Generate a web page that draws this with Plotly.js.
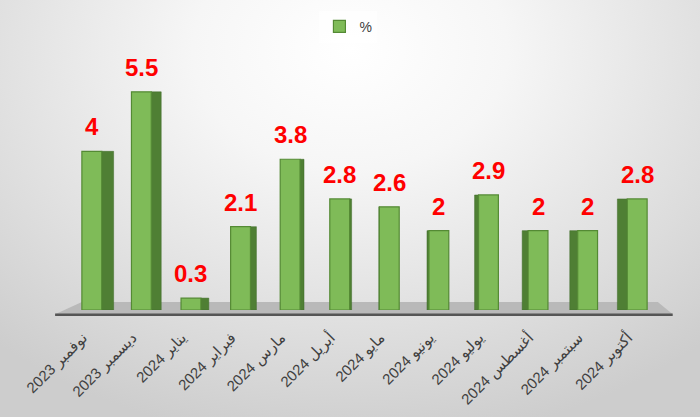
<!DOCTYPE html>
<html>
<head>
<meta charset="utf-8">
<script src="https://cdn.plot.ly/plotly-3.0.1.min.js"></script>
<style>
html,body{margin:0;padding:0;}
body{width:700px;height:417px;background:radial-gradient(ellipse 75% 95% at 50% 12%, #ffffff 0%, #f6f6f6 30%, #dcdcdc 75%, #cdcdcd 100%);}
#chart{width:700px;height:417px;}
</style>
</head>
<body>
<div id="chart"></div>
<script>
const categories = ["نوفمبر 2023","ديسمبر 2023","يناير 2024","فبراير 2024","مارس 2024","أبريل 2024","مايو 2024","يونيو 2024","يوليو 2024","أغسطس 2024","سبتمبر 2024","أكتوبر 2024"];
const values = [4, 5.5, 0.3, 2.1, 3.8, 2.8, 2.6, 2, 2.9, 2, 2, 2.8];
const valueLabels = ["4","5.5","0.3","2.1","3.8","2.8","2.6","2","2.9","2","2","2.8"];
const seriesName = "%";

const idx = categories.map((_, i) => i);
const frontW = 0.4;
const sideW = idx.map(i => Math.max(0.01, Math.abs(0.04 * (i - 6))));
const sideOffset = idx.map((i, k) => (i < 6 ? frontW / 2 : -frontW / 2 - sideW[k]));

const side = {
  type: 'bar', x: idx, y: values, width: sideW, offset: sideOffset,
  marker: {color: '#4f7f34', line: {color: '#3f6a28', width: 0.5}},
  showlegend: false, hoverinfo: 'skip'
};
const front = {
  type: 'bar', x: idx, y: values, name: seriesName, width: frontW,
  marker: {color: '#7fbb58', line: {color: '#548a34', width: 1.2}}
};

const annotations = idx.map(i => ({
  x: i, y: values[i], xref: 'x', yref: 'y', text: valueLabels[i],
  showarrow: false, yanchor: 'bottom', yshift: 9,
  font: {family: 'Liberation Sans, Arial, sans-serif', size: 24, color: '#ff0000', weight: 'bold'}
}));

const layout = {
  width: 700, height: 417,
  margin: {l: 67, r: 38, t: 71.5, b: 107, autoexpand: false},
  paper_bgcolor: 'rgba(0,0,0,0)', plot_bgcolor: 'rgba(0,0,0,0)',
  barmode: 'overlay',
  xaxis: {
    range: [-0.5, 11.5], tickvals: idx, ticktext: categories, tickangle: -45,
    showgrid: false, zeroline: false, showline: false, ticks: '',
    ticklabelstandoff: 15, ticklabelshift: -9,
    tickfont: {family: 'Liberation Sans, DejaVu Sans, Arial, sans-serif', size: 15, color: '#404040'}
  },
  yaxis: {range: [0, 6], visible: false, showgrid: false, zeroline: false},
  showlegend: true,
  legend: {
    orientation: 'h', x: 0.473, xanchor: 'center', y: 1.19, yanchor: 'middle',
    bgcolor: 'rgba(255,255,255,0.5)',
    font: {family: 'Liberation Sans, Arial, sans-serif', size: 14, color: '#404040'}
  },
  shapes: [
    {type: 'path', xref: 'paper', yref: 'paper', layer: 'below',
     path: 'M 0.025 0.034 L 0.993 0.034 L 1.018 -0.018 L -0.02 -0.018 Z',
     fillcolor: '#b9b9b9', line: {width: 0}},
    {type: 'line', xref: 'paper', yref: 'paper', layer: 'below',
     x0: -0.02, x1: 1.018, y0: -0.02, y1: -0.02,
     line: {color: '#555555', width: 2.5}}
  ],
  annotations: annotations
};

Plotly.newPlot('chart', [side, front], layout, {displayModeBar: false, staticPlot: true});
</script>
</body>
</html>
